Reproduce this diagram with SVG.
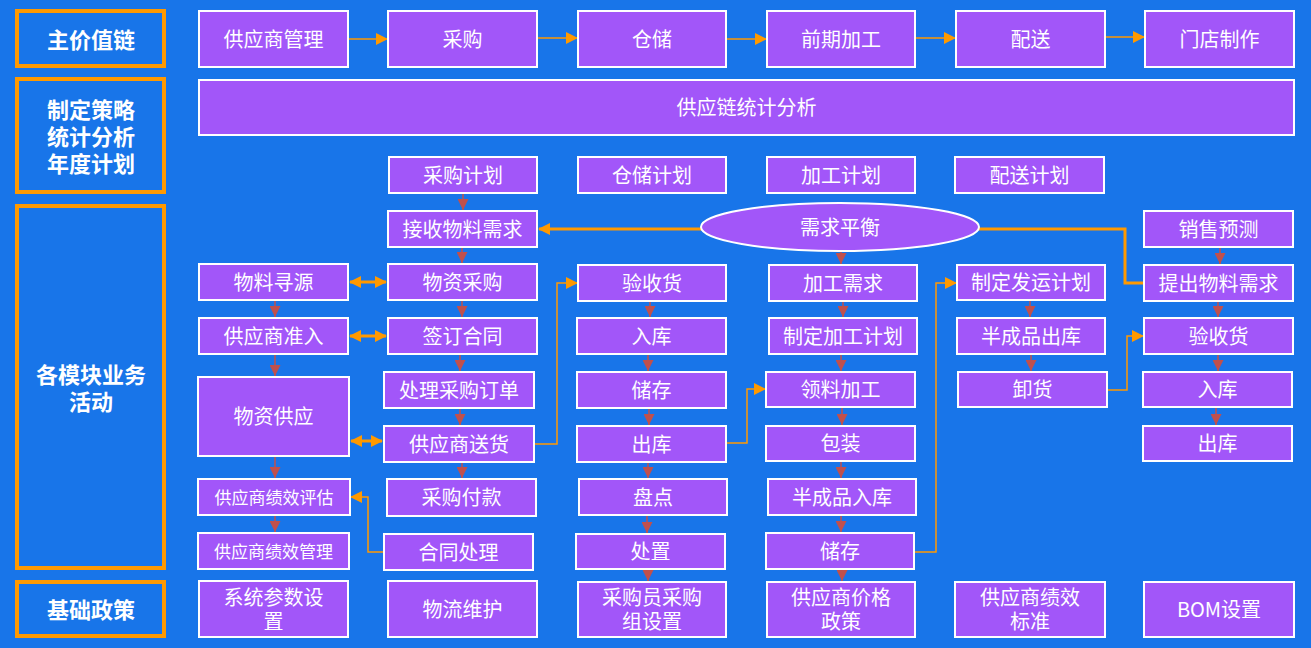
<svg xmlns="http://www.w3.org/2000/svg" width="1311" height="648" viewBox="0 0 1311 648">
<style>
.n rect,.n ellipse{fill:#A256F9;stroke:#FFFFFF;stroke-width:2}
.n text{fill:#FFFFFF;font-family:"Noto Sans CJK SC","Microsoft YaHei",sans-serif;font-size:20px;text-anchor:middle;dominant-baseline:central;transform:translateY(-1px)}
.n text.s{font-size:17px}
.l rect{fill:none;stroke:#FF9900;stroke-width:4}
.l text{fill:#FFFFFF;font-family:"Noto Sans CJK SC",sans-serif;font-size:22px;font-weight:bold;text-anchor:middle;dominant-baseline:central;transform:translateY(-1px)}
.thin{fill:none;stroke:#FF9900;stroke-width:1.5}
.thick{fill:none;stroke:#FF9900;stroke-width:3}
.red{fill:none;stroke:#C0504D;stroke-width:1.5}
</style>
<defs>
<marker id="ao" markerUnits="userSpaceOnUse" markerWidth="12" markerHeight="12" refX="11" refY="6" orient="auto-start-reverse"><path d="M0,0 L12,6 L0,12 z" fill="#FF9900"/></marker>
<marker id="ar" markerUnits="userSpaceOnUse" markerWidth="11" markerHeight="11" refX="11" refY="5.5" orient="auto"><path d="M0,0 L11,5.5 L0,11 z" fill="#C0504D"/></marker>
</defs>
<rect width="1311" height="648" fill="#1875E9"/>

<g id="labels">
<g id="lbl-main" class="l"><rect x="17" y="11" width="147" height="55"/><text x="91" y="39">主价值链</text></g>
<g id="lbl-strategy" class="l"><rect x="17" y="79" width="147" height="113"/><text x="91" y="109">制定策略</text><text x="91" y="136">统计分析</text><text x="91" y="163">年度计划</text></g>
<g id="lbl-modules" class="l"><rect x="17" y="206" width="147" height="362"/><text x="91" y="374">各模块业务</text><text x="91" y="401">活动</text></g>
<g id="lbl-base" class="l"><rect x="17" y="582" width="147" height="54"/><text x="91" y="609">基础政策</text></g>
</g>

<g id="connectors">
<path class="thin" d="M349,39 H387" marker-end="url(#ao)"/>
<path class="thin" d="M538,38 H577" marker-end="url(#ao)"/>
<path class="thin" d="M727,39 H766" marker-end="url(#ao)"/>
<path class="thin" d="M916,38 H955" marker-end="url(#ao)"/>
<path class="thin" d="M1106,37 H1144" marker-end="url(#ao)"/>
<path class="thick" d="M701,229 H539" marker-end="url(#ao)"/>
<path class="thick" d="M979,229 H1125 V283 H1143"/>
<path class="thick" d="M350,282 H386" marker-start="url(#ao)" marker-end="url(#ao)"/>
<path class="thick" d="M350,336 H386" marker-start="url(#ao)" marker-end="url(#ao)"/>
<path class="thick" d="M351,441 H382" marker-start="url(#ao)" marker-end="url(#ao)"/>
<path class="thin" d="M535,444 H557 V283 H577" marker-end="url(#ao)"/>
<path class="thin" d="M727,443 H747 V389 H765" marker-end="url(#ao)"/>
<path class="thin" d="M915,552 H936 V283 H956" marker-end="url(#ao)"/>
<path class="thin" d="M1108,390 H1127 V336 H1143" marker-end="url(#ao)"/>
<path class="thin" d="M383,552 H368 V497 H351" marker-end="url(#ao)"/>
<path class="red" d="M463,194 V210" marker-end="url(#ar)"/>
<path class="red" d="M462,248 V263" marker-end="url(#ar)"/>
<path class="red" d="M462,301 V317" marker-end="url(#ar)"/>
<path class="red" d="M460,355 V371" marker-end="url(#ar)"/>
<path class="red" d="M460,409 V425" marker-end="url(#ar)"/>
<path class="red" d="M462,463 V478" marker-end="url(#ar)"/>
<path class="red" d="M275,301 V317" marker-end="url(#ar)"/>
<path class="red" d="M275,355 V376" marker-end="url(#ar)"/>
<path class="red" d="M275,457 V478" marker-end="url(#ar)"/>
<path class="red" d="M275,516 V532" marker-end="url(#ar)"/>
<path class="red" d="M650,302 V317" marker-end="url(#ar)"/>
<path class="red" d="M648,355 V371" marker-end="url(#ar)"/>
<path class="red" d="M649,409 V425" marker-end="url(#ar)"/>
<path class="red" d="M648,463 V478" marker-end="url(#ar)"/>
<path class="red" d="M647,516 V533" marker-end="url(#ar)"/>
<path class="red" d="M648,570 V581" marker-end="url(#ar)"/>
<path class="red" d="M841,251 V264" marker-end="url(#ar)"/>
<path class="red" d="M843,302 V317" marker-end="url(#ar)"/>
<path class="red" d="M841,355 V371" marker-end="url(#ar)"/>
<path class="red" d="M842,408 V425" marker-end="url(#ar)"/>
<path class="red" d="M841,462 V478" marker-end="url(#ar)"/>
<path class="red" d="M841,516 V532" marker-end="url(#ar)"/>
<path class="red" d="M842,570 V581" marker-end="url(#ar)"/>
<path class="red" d="M1030,301 V317" marker-end="url(#ar)"/>
<path class="red" d="M1031,355 V371" marker-end="url(#ar)"/>
<path class="red" d="M1220,248 V264" marker-end="url(#ar)"/>
<path class="red" d="M1218,302 V317" marker-end="url(#ar)"/>
<path class="red" d="M1218,355 V371" marker-end="url(#ar)"/>
<path class="red" d="M1216,408 V425" marker-end="url(#ar)"/>
</g>

<g id="n-supplier-mgmt" class="n"><rect x="199" y="11" width="149" height="56"/><text x="273.5" y="39">供应商管理</text></g>
<g id="n-purchase" class="n"><rect x="388" y="11" width="149" height="56"/><text x="462.5" y="39">采购</text></g>
<g id="n-storage" class="n"><rect x="578" y="11" width="148" height="56"/><text x="652" y="39">仓储</text></g>
<g id="n-preprocess" class="n"><rect x="767" y="11" width="148" height="56"/><text x="841" y="39">前期加工</text></g>
<g id="n-delivery" class="n"><rect x="956" y="11" width="149" height="56"/><text x="1030.5" y="39">配送</text></g>
<g id="n-store" class="n"><rect x="1145" y="11" width="149" height="56"/><text x="1219.5" y="39">门店制作</text></g>
<g id="n-stats" class="n"><rect x="199" y="80" width="1095" height="55"/><text x="746.5" y="107.5">供应链统计分析</text></g>

<g id="n-plan-purchase" class="n"><rect x="389" y="157" width="148" height="36"/><text x="463" y="175">采购计划</text></g>
<g id="n-plan-storage" class="n"><rect x="578" y="157" width="148" height="36"/><text x="652" y="175">仓储计划</text></g>
<g id="n-plan-process" class="n"><rect x="767" y="157" width="148" height="36"/><text x="841" y="175">加工计划</text></g>
<g id="n-plan-delivery" class="n"><rect x="955" y="157" width="149" height="36"/><text x="1029.5" y="175">配送计划</text></g>

<g id="n-balance" class="n"><ellipse cx="840" cy="227" rx="139" ry="24"/><text x="840" y="227">需求平衡</text></g>

<g id="n-sourcing" class="n"><rect x="199" y="264" width="149" height="36"/><text x="273.5" y="282">物料寻源</text></g>
<g id="n-admission" class="n"><rect x="199" y="318" width="149" height="36"/><text x="273.5" y="336">供应商准入</text></g>
<g id="n-supply" class="n"><rect x="198" y="377" width="151" height="79"/><text x="273.5" y="416.5">物资供应</text></g>
<g id="n-eval" class="n"><rect x="198" y="479" width="152" height="36"/><text class="s" x="274" y="497">供应商绩效评估</text></g>
<g id="n-perf-mgmt" class="n"><rect x="198" y="533" width="151" height="36"/><text class="s" x="273.5" y="551">供应商绩效管理</text></g>
<g id="n-sysparam" class="n"><rect x="199" y="581" width="149" height="56"/><text x="273.5" y="597">系统参数设</text><text x="273.5" y="621">置</text></g>

<g id="n-receive-demand" class="n"><rect x="388" y="211" width="149" height="36"/><text x="462.5" y="229">接收物料需求</text></g>
<g id="n-procure" class="n"><rect x="388" y="264" width="149" height="36"/><text x="462.5" y="282">物资采购</text></g>
<g id="n-contract" class="n"><rect x="388" y="318" width="149" height="36"/><text x="462.5" y="336">签订合同</text></g>
<g id="n-po" class="n"><rect x="384" y="372" width="150" height="36"/><text x="459" y="390">处理采购订单</text></g>
<g id="n-ship" class="n"><rect x="384" y="426" width="150" height="36"/><text x="459" y="444">供应商送货</text></g>
<g id="n-payment" class="n"><rect x="387" y="479" width="149" height="37"/><text x="461.5" y="497.5">采购付款</text></g>
<g id="n-contract-proc" class="n"><rect x="384" y="534" width="149" height="36"/><text x="458.5" y="552">合同处理</text></g>
<g id="n-logistics" class="n"><rect x="388" y="581" width="149" height="56"/><text x="462.5" y="609">物流维护</text></g>

<g id="n-inspect" class="n"><rect x="578" y="265" width="148" height="36"/><text x="652" y="283">验收货</text></g>
<g id="n-instock" class="n"><rect x="577" y="318" width="149" height="36"/><text x="651.5" y="336">入库</text></g>
<g id="n-store-w" class="n"><rect x="577" y="372" width="149" height="36"/><text x="651.5" y="390">储存</text></g>
<g id="n-outstock" class="n"><rect x="577" y="426" width="149" height="36"/><text x="651.5" y="444">出库</text></g>
<g id="n-count" class="n"><rect x="579" y="479" width="148" height="36"/><text x="653" y="497">盘点</text></g>
<g id="n-dispose" class="n"><rect x="576" y="534" width="149" height="35"/><text x="650.5" y="551.5">处置</text></g>
<g id="n-buyer" class="n"><rect x="578" y="582" width="148" height="55"/><text x="652" y="597">采购员采购</text><text x="652" y="621">组设置</text></g>

<g id="n-proc-demand" class="n"><rect x="769" y="265" width="148" height="36"/><text x="843" y="283">加工需求</text></g>
<g id="n-proc-plan" class="n"><rect x="769" y="318" width="148" height="36"/><text x="843" y="336">制定加工计划</text></g>
<g id="n-pick" class="n"><rect x="766" y="372" width="149" height="35"/><text x="840.5" y="389.5">领料加工</text></g>
<g id="n-pack" class="n"><rect x="766" y="426" width="149" height="35"/><text x="840.5" y="443.5">包装</text></g>
<g id="n-semi-in" class="n"><rect x="768" y="479" width="148" height="36"/><text x="842" y="497">半成品入库</text></g>
<g id="n-store-p" class="n"><rect x="766" y="533" width="148" height="36"/><text x="840" y="551">储存</text></g>
<g id="n-price" class="n"><rect x="767" y="582" width="148" height="55"/><text x="841" y="597">供应商价格</text><text x="841" y="621">政策</text></g>

<g id="n-ship-plan" class="n"><rect x="957" y="265" width="148" height="35"/><text x="1031" y="282.5">制定发运计划</text></g>
<g id="n-semi-out" class="n"><rect x="957" y="318" width="148" height="36"/><text x="1031" y="336">半成品出库</text></g>
<g id="n-unload" class="n"><rect x="958" y="372" width="149" height="35"/><text x="1032.5" y="389.5">卸货</text></g>
<g id="n-perf-std" class="n"><rect x="955" y="582" width="150" height="55"/><text x="1030" y="597">供应商绩效</text><text x="1030" y="621">标准</text></g>

<g id="n-forecast" class="n"><rect x="1144" y="211" width="149" height="36"/><text x="1218.5" y="229">销售预测</text></g>
<g id="n-req" class="n"><rect x="1144" y="265" width="149" height="36"/><text x="1218.5" y="283">提出物料需求</text></g>
<g id="n-inspect2" class="n"><rect x="1144" y="318" width="149" height="36"/><text x="1218.5" y="336">验收货</text></g>
<g id="n-instock2" class="n"><rect x="1143" y="372" width="149" height="35"/><text x="1217.5" y="389.5">入库</text></g>
<g id="n-outstock2" class="n"><rect x="1143" y="426" width="149" height="35"/><text x="1217.5" y="443.5">出库</text></g>
<g id="n-bom" class="n"><rect x="1144" y="582" width="150" height="55"/><text x="1219" y="609.5">BOM设置</text></g>
</svg>
